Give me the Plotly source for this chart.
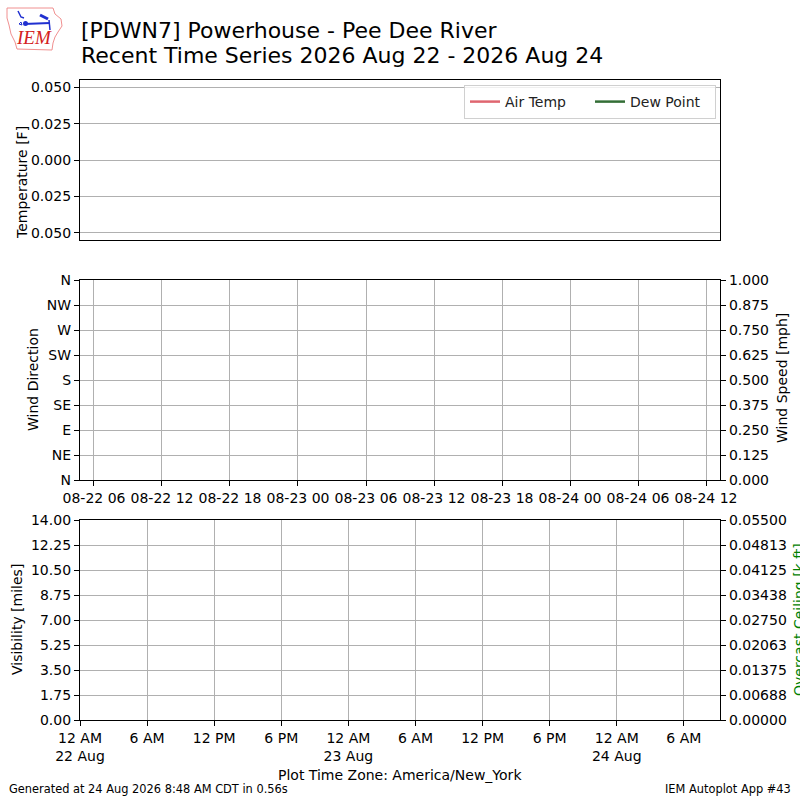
import plotly.graph_objects as go

# ---------------- data (station reported only missing values in the window) ----------------
obs_time = ["2026-08-22 00:00"]
air_temp = [None]
dew_point = [None]
wind_dir = [None]
wind_speed = [None]
visibility = [None]
ceiling = [None]

temp_ticks = [-0.05, -0.025, 0.0, 0.025, 0.05]
temp_ticklabels = ["0.050", "0.025", "0.000", "0.025", "0.050"]

dir_ticks = [0, 45, 90, 135, 180, 225, 270, 315, 360]
dir_ticklabels = ["N", "NE", "E", "SE", "S", "SW", "W", "NW", "N"]

speed_ticks = [0, 0.125, 0.25, 0.375, 0.5, 0.625, 0.75, 0.875, 1.0]

wind_xticks = ["2026-08-22 06:00", "2026-08-22 12:00", "2026-08-22 18:00",
               "2026-08-23 00:00", "2026-08-23 06:00", "2026-08-23 12:00",
               "2026-08-23 18:00", "2026-08-24 00:00", "2026-08-24 06:00",
               "2026-08-24 12:00"]
wind_xticklabels = ["08-22 06", "08-22 12", "08-22 18", "08-23 00", "08-23 06",
                    "08-23 12", "08-23 18", "08-24 00", "08-24 06", "08-24 12"]

vis_ticks = [0, 1.75, 3.5, 5.25, 7.0, 8.75, 10.5, 12.25, 14.0]
ceil_ticks = [0, 0.006875, 0.01375, 0.020625, 0.0275, 0.034375, 0.04125, 0.048125, 0.055]
ceil_ticklabels = ["0.00000", "0.00688", "0.01375", "0.02063", "0.02750",
                   "0.03438", "0.04125", "0.04813", "0.05500"]

bot_xticks = ["2026-08-22 00:00", "2026-08-22 06:00", "2026-08-22 12:00",
              "2026-08-22 18:00", "2026-08-23 00:00", "2026-08-23 06:00",
              "2026-08-23 12:00", "2026-08-23 18:00", "2026-08-24 00:00",
              "2026-08-24 06:00"]
bot_xticklabels = ["12 AM<br>22 Aug", "6 AM", "12 PM", "6 PM", "12 AM<br>23 Aug",
                   "6 AM", "12 PM", "6 PM", "12 AM<br>24 Aug", "6 AM"]

# ---------------- layout helpers ----------------
W, H = 800, 800
ML, MR, MT, MB = 80, 80, 80, 80
PW, PH = W - ML - MR, H - MT - MB


def px(x):
    return (x - ML) / PW


def py(y):
    return 1 - (y - MT) / PH


FONT = "DejaVu Sans"
GRID = "#b0b0b0"

fig = go.Figure()

# panel 1 : temperature
fig.add_trace(go.Scatter(x=obs_time, y=air_temp, mode="lines", name="Air Temp",
                         line=dict(color="#df6670", width=2.5),
                         xaxis="x", yaxis="y"))
fig.add_trace(go.Scatter(x=obs_time, y=dew_point, mode="lines", name="Dew Point",
                         line=dict(color="#336e36", width=2.5),
                         xaxis="x", yaxis="y"))
# panel 2 : wind
fig.add_trace(go.Scatter(x=obs_time, y=wind_dir, mode="markers", name="Wind Direction",
                         showlegend=False, xaxis="x2", yaxis="y2"))
fig.add_trace(go.Scatter(x=obs_time, y=wind_speed, mode="lines", name="Wind Speed",
                         showlegend=False, xaxis="x2", yaxis="y3"))
# panel 3 : visibility / ceiling
fig.add_trace(go.Scatter(x=obs_time, y=visibility, mode="lines", name="Visibility",
                         showlegend=False, xaxis="x3", yaxis="y4"))
fig.add_trace(go.Scatter(x=obs_time, y=ceiling, mode="lines", name="Ceiling",
                         showlegend=False, line=dict(color="green"),
                         xaxis="x3", yaxis="y5"))

tickfont = dict(family=FONT, size=14, color="#000")
common = dict(showline=True, linecolor="#000", linewidth=1.3, ticks="outside",
              ticklen=5, tickcolor="#000", tickwidth=1, tickfont=tickfont,
              zeroline=False, gridcolor=GRID, gridwidth=1)

full_range = ["2026-08-22 00:00", "2026-08-24 09:14"]
wind_range = ["2026-08-22 04:46", "2026-08-24 13:14"]

fig.update_layout(
    width=W, height=H,
    margin=dict(l=ML, r=MR, t=MT, b=MB),
    paper_bgcolor="white", plot_bgcolor="white",
    font=dict(family=FONT, size=14, color="#000"),
    showlegend=True,
    legend=dict(orientation="h", x=px(464), y=py(85), xanchor="left", yanchor="top",
                bgcolor="rgba(255,255,255,0.8)", bordercolor="#d0d0d0", borderwidth=1,
                font=dict(family=FONT, size=14, color="#222"),
                itemwidth=30, entrywidth=80, entrywidthmode="pixels"),
    xaxis=dict(domain=[0, 1], anchor="y", type="date", range=full_range,
               showticklabels=False, ticks="", showgrid=False, mirror=True,
               showline=True, linecolor="#000", linewidth=1.3),
    yaxis=dict(domain=[py(240), py(80)], anchor="x", range=[-0.055, 0.055],
               tickvals=temp_ticks, ticktext=temp_ticklabels, mirror=True,
               showgrid=True, **common),
    xaxis2=dict(domain=[0, 1], anchor="y2", type="date", range=wind_range,
                tickvals=wind_xticks, ticktext=wind_xticklabels, mirror=True,
                showgrid=True, **common),
    yaxis2=dict(domain=[py(480), py(280)], anchor="x2", range=[0, 360],
                tickvals=dir_ticks, ticktext=dir_ticklabels, mirror=True,
                showgrid=True, **common),
    yaxis3=dict(overlaying="y2", side="right", anchor="x2", range=[0, 1],
                tickvals=speed_ticks, tickformat=".3f", showgrid=False, **common),
    xaxis3=dict(domain=[0, 1], anchor="y4", type="date", range=full_range,
                tickvals=bot_xticks, ticktext=bot_xticklabels, mirror=True,
                showgrid=True, **common),
    yaxis4=dict(domain=[0, py(520)], anchor="x3", range=[0, 14],
                tickvals=vis_ticks, tickformat=".2f", mirror=True,
                showgrid=True, **common),
    yaxis5=dict(overlaying="y4", side="right", anchor="x3", range=[0, 0.055],
                tickvals=ceil_ticks, ticktext=ceil_ticklabels, showgrid=False, **common),
)

ann = []


def text(x, y, s, size=14, color="#000", xanchor="center", yanchor="middle",
         angle=0, family=FONT, **kw):
    ann.append(dict(x=px(x), y=py(y), xref="paper", yref="paper", text=s,
                    showarrow=False, xanchor=xanchor, yanchor=yanchor,
                    textangle=angle, font=dict(family=family, size=size, color=color),
                    **kw))


text(79, 30, "[PDWN7] Powerhouse - Pee Dee River", size=22, xanchor="left")
text(79, 56, "Recent Time Series 2026 Aug 22 - 2026 Aug 24", size=22, xanchor="left")
text(22, 183, "Temperature [F]", angle=-90)
text(33, 380, "Wind Direction", angle=-90)
text(782, 378, "Wind Speed [mph]", angle=-90)
text(17, 620, "Visibility [miles]", angle=-90)
text(789, 620, "Overcast Ceiling [k ft]", angle=-90, color="green", xanchor="left")
text(400, 775, "Plot Time Zone: America/New_York")
text(7, 789, "Generated at 24 Aug 2026 8:48 AM CDT in 0.56s", size=11.4, xanchor="left")
text(793, 789, "IEM Autoplot App #43", size=11.4, xanchor="right")
text(34, 38, "<i>IEM</i>", size=19, color="#d42020", family="Liberation Serif")
fig.update_layout(annotations=ann)


# IEM logo (approximate)
def path(points, close=True):
    s = "M " + " L ".join(f"{px(a)},{py(b)}" for a, b in points)
    return s + (" Z" if close else "")


iowa = [(7, 8), (53, 8), (55, 14), (61, 19), (62, 26), (58, 32), (55, 37), (53, 43),
        (52, 50), (17, 49), (15, 42), (11, 34), (9, 25), (7, 18)]
shapes = [
    dict(type="path", xref="paper", yref="paper", path=path(iowa),
         line=dict(color="#f09090", width=1)),
    dict(type="path", xref="paper", yref="paper", path=path([(24, 24), (50, 23)], False),
         line=dict(color="#2030d0", width=2)),
    dict(type="path", xref="paper", yref="paper", path=path([(18, 11), (21, 17), (24, 18)], False),
         line=dict(color="#2030d0", width=1.5)),
    dict(type="path", xref="paper", yref="paper", path=path([(40, 15), (48, 19)], False),
         line=dict(color="#2030d0", width=3)),
    dict(type="path", xref="paper", yref="paper", path=path([(49, 20), (50, 30)], False),
         line=dict(color="#2030d0", width=1.5)),
    dict(type="circle", xref="paper", yref="paper", x0=px(23), x1=px(28), y0=py(26), y1=py(21),
         fillcolor="#2030d0", line=dict(width=0)),
    dict(type="path", xref="paper", yref="paper", path=path([(19, 24), (21, 22), (22, 25)]),
         line=dict(color="#2030d0", width=1)),
]
fig.update_layout(shapes=shapes)

fig.write_html("out.html", config={"displayModeBar": False},
               post_script="document.body.style.margin='0';document.body.style.overflow='hidden';")
